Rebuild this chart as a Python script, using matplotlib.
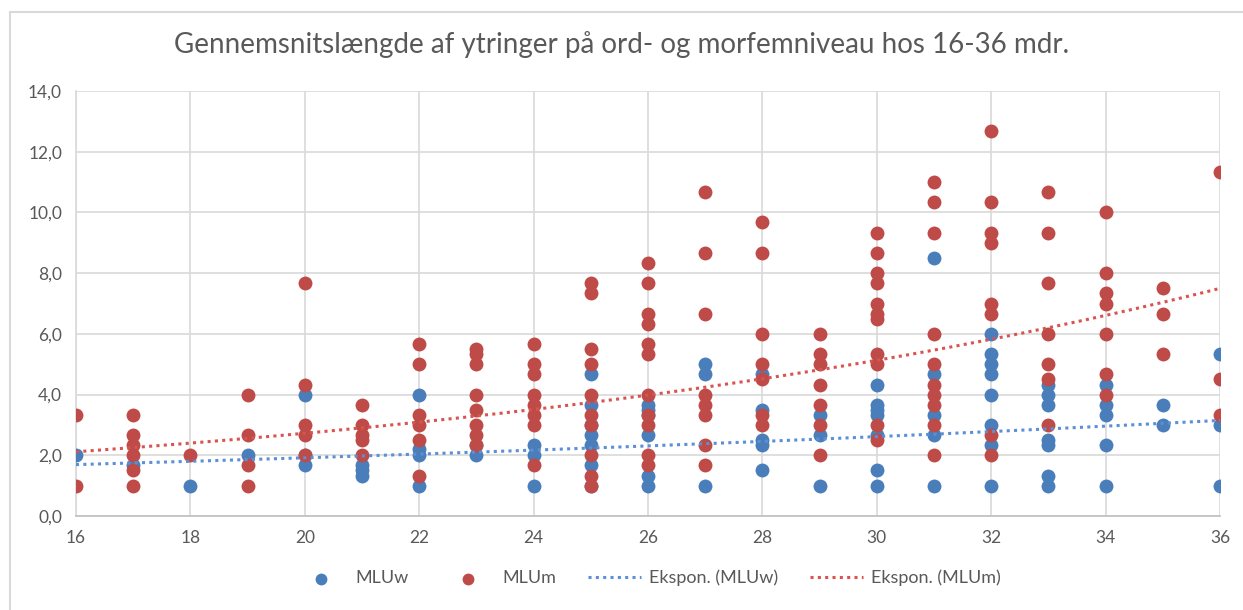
import numpy as np
import matplotlib.pyplot as plt
from matplotlib.lines import Line2D

# alder i maaneder
ages = list(range(16, 37))

# MLU i ord (blaa)
mluw_vals = [
    [2.0],
    [1.67],
    [1.0],
    [2.0],
    [4.0, 2.0, 1.67],
    [1.67, 1.5, 1.33],
    [4.0, 2.2, 2.0, 1.0],
    [2.33, 2.0],
    [2.33, 2.0, 1.0],
    [4.67, 3.67, 3.0, 2.67, 2.33, 1.67, 1.0],
    [3.67, 3.5, 3.33, 2.67, 1.33, 1.0],
    [5.0, 4.67, 1.0],
    [4.67, 3.5, 2.5, 2.33, 1.5],
    [3.33, 2.67, 1.0],
    [4.33, 3.67, 3.5, 3.33, 2.67, 1.5, 1.0],
    [8.5, 4.67, 3.33, 2.67, 1.0],
    [6.0, 5.33, 5.0, 4.67, 4.0, 3.0, 2.33, 1.0],
    [4.33, 4.0, 3.67, 2.5, 2.33, 1.33, 1.0],
    [4.33, 3.67, 3.33, 2.33, 1.0],
    [3.67, 3.0],
    [5.33, 3.0, 1.0],
]

# MLU i morfemer (roed)
mlum_vals = [
    [3.33, 1.0],
    [3.33, 2.67, 2.33, 2.0, 1.5, 1.0],
    [2.0],
    [4.0, 2.67, 1.67, 1.0],
    [7.67, 4.33, 3.0, 2.67, 2.0],
    [3.67, 3.0, 2.67, 2.5, 2.0],
    [5.67, 5.0, 3.33, 3.0, 2.5, 1.33],
    [5.5, 5.33, 5.0, 4.0, 3.5, 3.0, 2.67, 2.33],
    [5.67, 5.0, 4.67, 4.0, 3.67, 3.33, 3.0, 1.67],
    [7.67, 7.33, 5.5, 5.0, 4.0, 3.33, 3.0, 2.0, 1.33, 1.0],
    [8.33, 7.67, 6.67, 6.33, 5.67, 5.33, 4.0, 3.33, 3.0, 2.0, 1.67],
    [10.67, 8.67, 6.67, 4.0, 3.67, 3.33, 2.33, 1.67],
    [9.67, 8.67, 6.0, 5.0, 4.5, 3.33, 3.0],
    [6.0, 5.33, 5.0, 4.33, 3.67, 3.0, 2.0],
    [9.33, 8.67, 8.0, 7.67, 7.0, 6.67, 6.5, 5.33, 5.0, 3.0, 2.5],
    [11.0, 10.33, 9.33, 6.0, 5.0, 4.33, 4.0, 3.67, 3.0, 2.0],
    [12.67, 10.33, 9.33, 9.0, 7.0, 6.67, 2.67, 2.0],
    [10.67, 9.33, 7.67, 6.0, 5.0, 4.5, 3.0],
    [10.0, 8.0, 7.33, 7.0, 6.0, 4.67, 4.0],
    [7.5, 6.67, 5.33],
    [11.33, 4.5, 3.33],
]

blue = '#4a7ebb'
red = '#be4b48'
grey_txt = '#595959'

plt.rcParams['font.family'] = ['Lato', 'DejaVu Sans']


def flatten(vals):
    xs, ys = [], []
    for a, v in zip(ages, vals):
        xs += [a] * len(v)
        ys += v
    return np.array(xs, float), np.array(ys, float)


wx, wy = flatten(mluw_vals)
mx, my = flatten(mlum_vals)

fig = plt.figure(figsize=(12.43, 6.10), dpi=100)
ax = fig.add_axes([76 / 1243, 1 - 516 / 610, (1220 - 76) / 1243, (516 - 91) / 610])

ax.scatter(wx, wy, s=100, color=blue, label='MLUw', zorder=3, linewidths=0)
ax.scatter(mx, my, s=100, color=red, label='MLUm', zorder=4, linewidths=0)

# eksponentiel tendenslinje som i Excel (fit paa ln y)
xx = np.linspace(16, 36, 200)
bw, aw = np.polyfit(wx, np.log(wy), 1)
bm, am = np.polyfit(mx, np.log(my), 1)
ax.plot(xx, np.exp(aw) * np.exp(bw * xx), color='#5b8fd6', lw=2.2,
        linestyle=(0, (1, 1.4)), label='Ekspon. (MLUw)', zorder=5)
ax.plot(xx, np.exp(am) * np.exp(bm * xx), color='#d9534f', lw=2.2,
        linestyle=(0, (1, 1.4)), label='Ekspon. (MLUm)', zorder=5)

ax.set_xlim(16, 36)
ax.set_ylim(0, 14)
ax.set_xticks(range(16, 37, 2))
ax.set_yticks(np.arange(0, 15, 2))
ax.set_yticklabels([('%.1f' % v).replace('.', ',') for v in np.arange(0, 15, 2)])
ax.grid(True, color='#d9d9d9', lw=1.2)
ax.set_axisbelow(True)
for s in ['top', 'right']:
    ax.spines[s].set_visible(False)
ax.spines['left'].set_color('#d9d9d9')
ax.spines['bottom'].set_color('#bfbfbf')
ax.spines['left'].set_linewidth(1.2)
ax.spines['bottom'].set_linewidth(1.2)
ax.tick_params(length=0, labelsize=12.5, colors=grey_txt, pad=10)

fig.text(0.5, 1 - 45 / 610, 'Gennemsnitslængde af ytringer på ord- og morfemniveau hos 16-36 mdr.',
         ha='center', va='center', fontsize=20, color=grey_txt)

fig.legend(loc='center', bbox_to_anchor=(648 / 1243, 1 - 578 / 610), ncol=4,
           frameon=False, fontsize=13, labelcolor=grey_txt, handlelength=2.9,
           columnspacing=1.8, handletextpad=0.45, markerscale=0.85)

# kantlinje for diagramomraadet (kun venstre og top er synlige)
fig.lines.append(Line2D([10 / 1243, 10 / 1243], [0, 1 - 12 / 610], transform=fig.transFigure,
                        color='#d9d9d9', lw=1.5))
fig.lines.append(Line2D([10 / 1243, 1], [1 - 12 / 610, 1 - 12 / 610], transform=fig.transFigure,
                        color='#d9d9d9', lw=1.5))

fig.savefig('out.png', dpi=100)
